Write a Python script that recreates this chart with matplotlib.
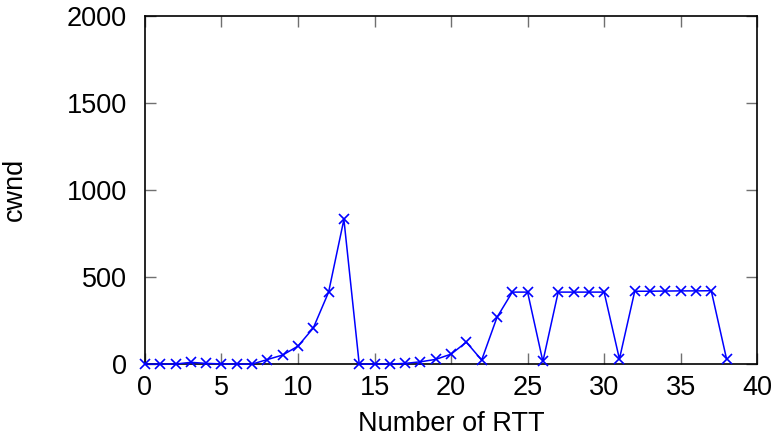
import matplotlib
matplotlib.use("Agg")
import matplotlib.pyplot as plt

plt.rcParams['font.family'] = ['Liberation Sans', 'DejaVu Sans']

# congestion window per round trip
rtt = list(range(0, 39))
cwnd = [0, 0, 0, 10, 4, 1, 0, 0, 26, 52, 103, 207, 413, 830,
        0, 0, 0, 4, 13, 27, 57, 126, 23, 268, 413, 413, 15,
        413, 413, 413, 413, 29, 418, 418, 419, 420, 420, 421, 29]

x_ticks = [0, 5, 10, 15, 20, 25, 30, 35, 40]
y_ticks = [0, 500, 1000, 1500, 2000]

fig = plt.figure(figsize=(7.75, 4.44), dpi=100)
ax = fig.add_axes([0.187, 0.180, 0.790, 0.785])

ax.plot(rtt, cwnd, color='#0000ff', linewidth=1.1, marker='x',
        markersize=7.5, markeredgewidth=1.2, clip_on=False, zorder=3)

ax.set_xlim(0, 40)
ax.set_ylim(0, 2000)
ax.set_xticks(x_ticks)
ax.set_yticks(y_ticks)

ax.tick_params(direction='in', length=8, width=1, color='#707070',
               top=True, right=True, labelsize=19.5)
ax.tick_params(axis='y', pad=13)
ax.tick_params(axis='x', pad=8)
for s in ax.spines.values():
    s.set_linewidth(1.2)
    s.set_color('black')

ax.set_xlabel('Number of RTT', fontsize=19.5, labelpad=7)
ax.set_ylabel('cwnd', fontsize=19.5, labelpad=28)

fig.savefig('out.png', dpi=100)
